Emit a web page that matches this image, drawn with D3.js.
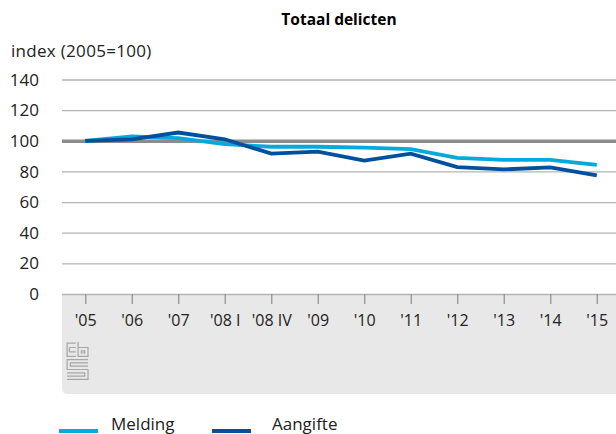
<!DOCTYPE html>
<html>
<head>
<meta charset="utf-8">
<script src="https://cdn.jsdelivr.net/npm/d3@7"></script>
<style>
  body { margin: 0; background: #fff; }
  svg { display: block; font-family: "Open Sans", "Noto Sans", sans-serif; }
</style>
</head>
<body>
<svg width="616" height="434"></svg>
<script>
var periods = ["'05", "'06", "'07", "'08 I", "'08 IV", "'09", "'10", "'11", "'12", "'13", "'14", "'15"];
var melding = [100, 102.8, 101.7, 97.8, 96.1, 96.1, 95.5, 94.6, 88.8, 87.5, 87.5, 84.3];
var aangifte = [100, 100.9, 105.4, 101, 91.6, 92.9, 87.1, 91.6, 82.8, 81.3, 82.6, 77.4];
var yTicks = [0, 20, 40, 60, 80, 100, 120, 140];
var seriesNames = ['Melding', 'Aangifte'];
var colors = ['#06a9dc', '#00509e'];

var width = 616;
var left = 62;
var top0 = 79.5, bottom0 = 294;

var svg = d3.select('svg');

var x = d3.scalePoint()
    .domain(periods)
    .range([left, 620])
    .padding(0.5);

var y = d3.scaleLinear()
    .domain([0, 140])
    .range([bottom0, top0]);

// grey area under axis
svg.append('path')
    .attr('fill', '#e8e8e8')
    .attr('d', 'M' + left + ',' + bottom0 + 'H' + width + 'V394H' + (left + 6) +
        'Q' + left + ',394 ' + left + ',388Z');

// gridlines
svg.append('g')
  .selectAll('line')
  .data(yTicks)
  .enter()
  .append('line')
    .attr('x1', left)
    .attr('x2', width)
    .attr('y1', d => y(d) + 0.5)
    .attr('y2', d => y(d) + 0.5)
    .attr('stroke', d => d === 100 ? '#8c8c8c' : '#b4b4b4')
    .attr('stroke-width', d => d === 100 ? 3.5 : 1.3);

// y labels
svg.append('g')
  .selectAll('text')
  .data(yTicks)
  .enter()
  .append('text')
    .attr('x', 39)
    .attr('y', d => y(d))
    .attr('dy', '0.36em')
    .attr('text-anchor', 'end')
    .attr('font-size', 17)
    .attr('fill', '#222')
    .text(d => d);

// x axis ticks + labels
var xAxis = d3.axisBottom(x).tickSize(10).tickPadding(11);
var gx = svg.append('g')
    .attr('transform', 'translate(0,' + bottom0 + ')')
    .call(xAxis);
gx.select('.domain').remove();
gx.selectAll('.tick line').attr('stroke', '#8c8c8c').attr('stroke-width', 1.2);
gx.selectAll('.tick text')
    .attr('font-size', 16)
    .attr('font-family', '"Open Sans", "Noto Sans", sans-serif')
    .attr('fill', '#222');

// lines
var line = d3.line()
    .x((d, i) => x(periods[i]))
    .y(d => y(d));

[melding, aangifte].forEach(function(vals, k) {
    svg.append('path')
        .datum(vals)
        .attr('fill', 'none')
        .attr('stroke', colors[k])
        .attr('stroke-width', 3.8)
        .attr('d', line);
});

// title
svg.append('text')
    .attr('x', 339)
    .attr('y', 25)
    .attr('text-anchor', 'middle')
    .attr('font-size', 15.5)
    .attr('font-weight', 'bold')
    .attr('fill', '#000')
    .text('Totaal delicten');

svg.append('text')
    .attr('x', 11)
    .attr('y', 57)
    .attr('font-size', 17)
    .attr('letter-spacing', 0.3)
    .attr('fill', '#222')
    .text('index (2005=100)');

// cbs logo
var logo = svg.append('g')
    .attr('transform', 'translate(66,342) scale(1.1)')
    .attr('fill', 'none')
    .attr('stroke', '#a6a6a6')
    .attr('stroke-width', 1.1);
logo.append('path').attr('d', 'M9,1H1V13H9 M3,5H9 M3,9H9 M3,5V9');
logo.append('path').attr('d', 'M11,0V13H20V5H11 M14,8H17V10H14Z');
logo.append('path').attr('d', 'M20,16H1V25H20V34H1 M20,19H4V22H20 M1,28H17V31H1');

// legend
var legend = svg.append('g')
  .selectAll('g')
  .data(seriesNames)
  .enter()
  .append('g')
    .attr('transform', (d, i) => 'translate(' + [59, 212][i] + ',0)');
legend.append('line')
    .attr('x1', 0)
    .attr('x2', 39)
    .attr('y1', 431)
    .attr('y2', 431)
    .attr('stroke', (d, i) => colors[i])
    .attr('stroke-width', 4);
legend.append('text')
    .attr('x', (d, i) => [52, 60][i])
    .attr('y', 430)
    .attr('font-size', 17)
    .attr('fill', '#222')
    .text(d => d);
</script>
</body>
</html>
